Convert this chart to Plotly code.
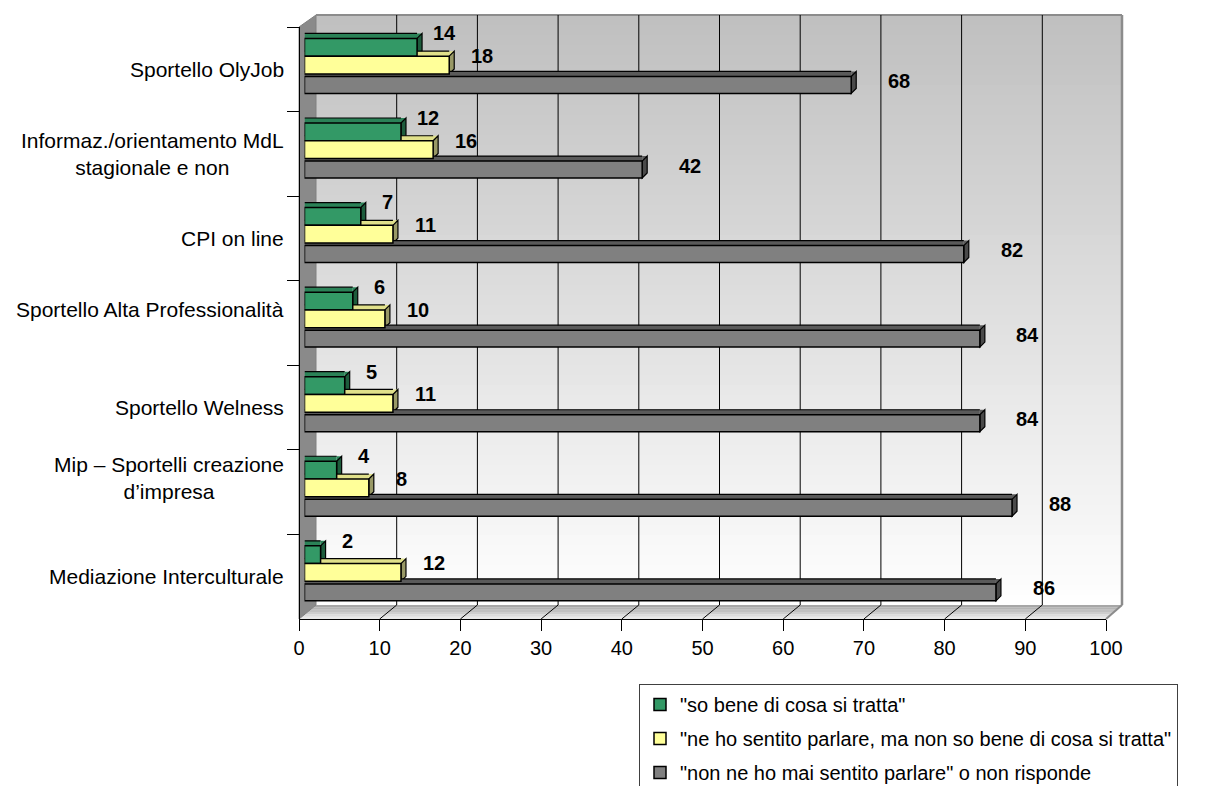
import plotly.graph_objects as go

# ---------------- data ----------------
categories = [
    "Sportello OlyJob",
    "Informaz./orientamento MdL<br>stagionale e non",
    "CPI on line",
    "Sportello Alta Professionalità<br> ",
    "Sportello Welness",
    "Mip – Sportelli creazione<br>d’impresa<br> ",
    "Mediazione Interculturale",
]
series_names = [
    '"so bene di cosa si tratta"',
    '"ne ho sentito parlare, ma non so bene di cosa si tratta"',
    '"non ne ho mai sentito parlare" o non risponde',
]
so_bene = [14, 12, 7, 6, 5, 4, 2]
sentito = [18, 16, 11, 10, 11, 8, 12]
mai_sentito = [68, 42, 82, 84, 84, 88, 86]
x_ticks = [0, 10, 20, 30, 40, 50, 60, 70, 80, 90, 100]

# ---------------- layout helpers ----------------
W, H = 1209, 786
FONT = "Liberation Sans, Arial, sans-serif"


def px(x):
    return x / W


def py(y):
    return (H - y) / H


TOP, BOT = 27, 619            # front plot box (category axis)
FX0, FX1 = 299, 1106          # front value axis 0..100
BX0, BX1 = 304.5, 1108.5      # bars (mid depth) 0..100
WX0, WX1, WY0, WY1 = 316, 1122, 15, 605   # back wall
DEPTH = 5                     # bar 3D depth (px)
cat_px = (BOT - TOP) / len(categories)

styles = [
    # front, top, side, offset, width, label xshift, label yshift
    dict(front="#339966", top="#2b8257", side="#1d5c3c", off=-0.365, w=0.21, xs=27, ys=14),
    dict(front="#FFFF99", top="#e0e08a", side="#999966", off=-0.155, w=0.21, xs=33, ys=9),
    dict(front="#808080", top="#5a5a5a", side="#4a4a4a", off=0.085, w=0.20, xs=48, ys=4),
]
values_all = [so_bene, sentito, mai_sentito]

fig = go.Figure()
for name, vals, st in zip(series_names, values_all, styles):
    fig.add_trace(go.Bar(
        x=vals, y=categories, orientation="h", name=name,
        xaxis="x", yaxis="y",
        offset=st["off"], width=st["w"],
        marker=dict(color=st["front"], line=dict(color="black", width=1.5)),
        legendgroup=name, hoverinfo="x+name",
    ))

shapes = []
# back wall gradient
N = 59
for k in range(N):
    y0 = WY0 + (WY1 - WY0) * k / N
    y1 = WY0 + (WY1 - WY0) * (k + 1) / N
    t = (k + 0.5) / N
    c = int(192 + (255 - 192) * t)
    shapes.append(dict(type="rect", xref="paper", yref="paper", layer="below",
                       x0=px(WX0), x1=px(WX1), y0=py(y0), y1=py(y1) - 0.0005,
                       fillcolor=f"rgb({c},{c},{c})", line=dict(width=0)))
# floor
NF = 6
for k in range(NF):
    t0, t1 = k / NF, (k + 1) / NF
    c = int(240 - 80 * (t0 + t1) / 2)

    def pt(xf, t):
        return px(xf + (WX0 - FX0) * t), py(BOT - (BOT - WY1) * t)
    a = pt(FX0, t0); b = pt(FX1, t0); cc = pt(FX1, t1); d = pt(FX0, t1)
    shapes.append(dict(type="path", xref="paper", yref="paper", layer="below",
                       path=f"M{a[0]},{a[1]} L{b[0]},{b[1]} L{cc[0]},{cc[1]} L{d[0]},{d[1]} Z",
                       fillcolor=f"rgb({c},{c},{c})", line=dict(width=0)))
# side wall
shapes.append(dict(type="path", xref="paper", yref="paper", layer="below",
                   path=f"M{px(FX0)},{py(TOP)} L{px(WX0)},{py(WY0)} L{px(WX0)},{py(WY1)} L{px(FX0)},{py(BOT)} Z",
                   fillcolor="#8a8a8a", line=dict(color="#808080", width=1)))
# back wall border (top and right) and floor right edge
shapes.append(dict(type="line", xref="paper", yref="paper", layer="below",
                   x0=px(WX0), x1=px(WX1), y0=py(WY0), y1=py(WY0),
                   line=dict(color="#8c8c8c", width=2)))
shapes.append(dict(type="line", xref="paper", yref="paper", layer="below",
                   x0=px(WX1), x1=px(WX1), y0=py(WY0), y1=py(WY1),
                   line=dict(color="#8c8c8c", width=2.5)))
shapes.append(dict(type="line", xref="paper", yref="paper", layer="below",
                   x0=px(FX1), x1=px(WX1), y0=py(BOT), y1=py(WY1),
                   line=dict(color="#8c8c8c", width=2)))
# gridlines on back wall + floor diagonals
for v in x_ticks[1:-1]:
    shapes.append(dict(type="line", xref="x2", xsizemode="pixel", xanchor=v,
                       x0=WX0 - FX0, x1=WX0 - FX0, yref="paper",
                       y0=py(WY1), y1=py(WY0), layer="below",
                       line=dict(color="black", width=1)))
    shapes.append(dict(type="line", xref="x2", xsizemode="pixel", xanchor=v,
                       x0=0, x1=WX0 - FX0, yref="paper",
                       y0=py(BOT), y1=py(WY1), layer="below",
                       line=dict(color="black", width=1)))

# 3D faces of the bars
for vals, st in zip(values_all, styles):
    hpx = st["w"] * cat_px
    for i, v in enumerate(vals):
        top = i + st["off"]
        shapes.append(dict(type="rect", xref="x", x0=0, x1=v,
                           yref="y", ysizemode="pixel", yanchor=top, y0=0, y1=DEPTH,
                           fillcolor=st["top"], line=dict(width=0), layer="below"))
        shapes.append(dict(type="path", xref="x", xsizemode="pixel", xanchor=v,
                           yref="y", ysizemode="pixel", yanchor=top,
                           path=f"M0,0 L0,{DEPTH} L{DEPTH},{DEPTH} Z",
                           fillcolor=st["top"], line=dict(width=0), layer="below"))
        shapes.append(dict(type="path", xref="x", xsizemode="pixel", xanchor=v,
                           yref="y", ysizemode="pixel", yanchor=top,
                           path=f"M0,0 L{DEPTH},{DEPTH} L{DEPTH},{DEPTH - hpx:.2f} L0,{-hpx:.2f} Z",
                           fillcolor=st["side"], line=dict(color="black", width=1.2), layer="below"))
        shapes.append(dict(type="line", xref="x", x0=0, x1=v,
                           yref="y", ysizemode="pixel", yanchor=top, y0=DEPTH, y1=DEPTH,
                           line=dict(color="black", width=1.2), layer="below"))

annotations = []
# value labels
for vals, st in zip(values_all, styles):
    for i, v in enumerate(vals):
        annotations.append(dict(
            x=v, y=i + st["off"] + st["w"] / 2, xref="x", yref="y",
            text=f"<b>{v}</b>", showarrow=False, xanchor="center", yanchor="middle",
            xshift=st["xs"], yshift=st["ys"],
            font=dict(family=FONT, size=20, color="black")))
# category labels (centred multi-line, like the original)
for i, c in enumerate(categories):
    annotations.append(dict(
        x=px(286), y=i, xref="paper", yref="y", text=c, showarrow=False,
        xanchor="right", yanchor="middle", align="center",
        font=dict(family=FONT, size=21, color="black")))

fig.update_layout(
    width=W, height=H,
    margin=dict(l=0, r=0, t=0, b=0, pad=0, autoexpand=False),
    paper_bgcolor="white", plot_bgcolor="rgba(0,0,0,0)",
    font=dict(family=FONT, size=20, color="black"),
    barmode="overlay",
    showlegend=True,
    xaxis=dict(domain=[px(BX0), px(BX1)], range=[0, 100], visible=False,
               anchor="y", fixedrange=True),
    xaxis2=dict(domain=[px(FX0), px(FX1)], range=[0, 100], anchor="y",
                tickvals=x_ticks, ticks="outside", ticklen=11, tickcolor="black",
                showline=True, linecolor="black", linewidth=1,
                showgrid=False, zeroline=False,
                tickfont=dict(family=FONT, size=20, color="black")),
    yaxis=dict(domain=[py(BOT), py(TOP)], type="category",
               categoryorder="array", categoryarray=categories,
               range=[len(categories) - 0.5, -0.5],
               anchor="free", position=px(FX0),
               showticklabels=False, ticks="outside", ticklen=12, tickcolor="black",
               tickson="boundaries", showline=True, linecolor="black", linewidth=1,
               showgrid=False, zeroline=False),
    legend=dict(x=px(639), y=py(684), xanchor="left", yanchor="top",
                bgcolor="white", bordercolor="#404040", borderwidth=1,
                font=dict(family=FONT, size=20, color="black"),
                tracegroupgap=5, itemwidth=30),
    shapes=shapes,
    annotations=annotations,
)

fig.write_html("out.html")
